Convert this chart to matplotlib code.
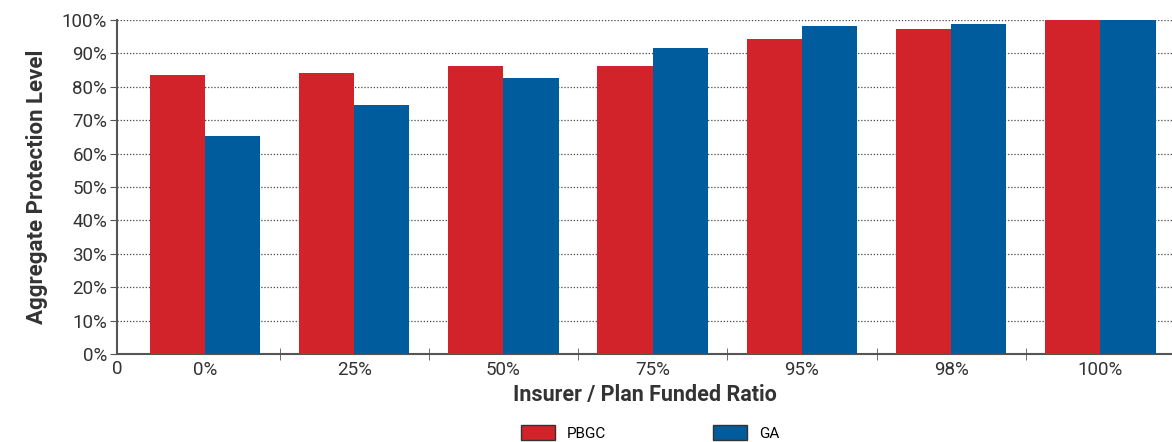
import numpy as np
import matplotlib.pyplot as plt
import matplotlib.transforms as mtransforms
from matplotlib.ticker import PercentFormatter

plt.rcParams['font.family'] = ['Roboto', 'DejaVu Sans']

# Data
categories = ['0%', '25%', '50%', '75%', '95%', '98%', '100%']
pbgc = [83.5, 84.1, 86.2, 86.2, 94.3, 97.3, 100]
ga = [65.3, 74.5, 82.6, 91.6, 98.2, 98.8, 100]

red = '#D2232A'
blue = '#005C9C'

fig = plt.figure(figsize=(11.72, 4.42), dpi=100)
ax = fig.add_axes([117 / 1172, 1 - 354 / 442, 1 - 117 / 1172, (354 - 20) / 442])

x = np.arange(len(categories))
w = 0.37
ax.bar(x - w / 2, pbgc, w, color=red, label='PBGC', zorder=3, linewidth=0)
ax.bar(x + w / 2, ga, w, color=blue, label='GA', zorder=3, linewidth=0)

ax.set_xlim(-0.59, len(categories) - 0.52)
ax.set_ylim(0, 100)
ax.set_yticks(np.arange(0, 101, 10))
ax.yaxis.set_major_formatter(PercentFormatter(decimals=0))
ax.grid(axis='y', linestyle=(0, (1, 1.5)), color='#444444', linewidth=0.9, zorder=0)

# category labels at centers, tick marks at group boundaries
ax.set_xticks(x)
ax.set_xticklabels(categories)
ax.tick_params(axis='x', which='major', length=0, pad=5)
ax.set_xticks(x[:-1] + 0.5, minor=True)
ax.tick_params(axis='x', which='minor', length=8, direction='inout', color='#555555')
ax.tick_params(axis='y', length=5, color='#555555', pad=2)
ax.tick_params(labelsize=13.5, labelcolor='#333333')

trans = mtransforms.blended_transform_factory(ax.transData, ax.transAxes)
ax.text(-0.59, -0.018, '0', transform=trans, ha='center', va='top',
        fontsize=13.5, color='#333333')

for side in ['top', 'right']:
    ax.spines[side].set_visible(False)
for side in ['left', 'bottom']:
    ax.spines[side].set_color('#555555')
    ax.spines[side].set_linewidth(1.5)

ax.set_xlabel('Insurer / Plan Funded Ratio', fontsize=15.5, fontweight='bold',
              color='#333333', labelpad=4)
ax.set_ylabel('Aggregate Protection Level', fontsize=16, fontweight='bold',
              color='#333333', labelpad=10)

handles, labels = ax.get_legend_handles_labels()
leg = fig.legend(handles, labels, loc='center', bbox_to_anchor=(0.555, 0.02),
                 ncol=2, frameon=False, fontsize=11, columnspacing=7,
                 handlelength=2.2, handleheight=1.1)
for p in leg.get_patches():
    p.set_edgecolor('#333333')
    p.set_linewidth(1)

fig.savefig('out.png', dpi=100)
